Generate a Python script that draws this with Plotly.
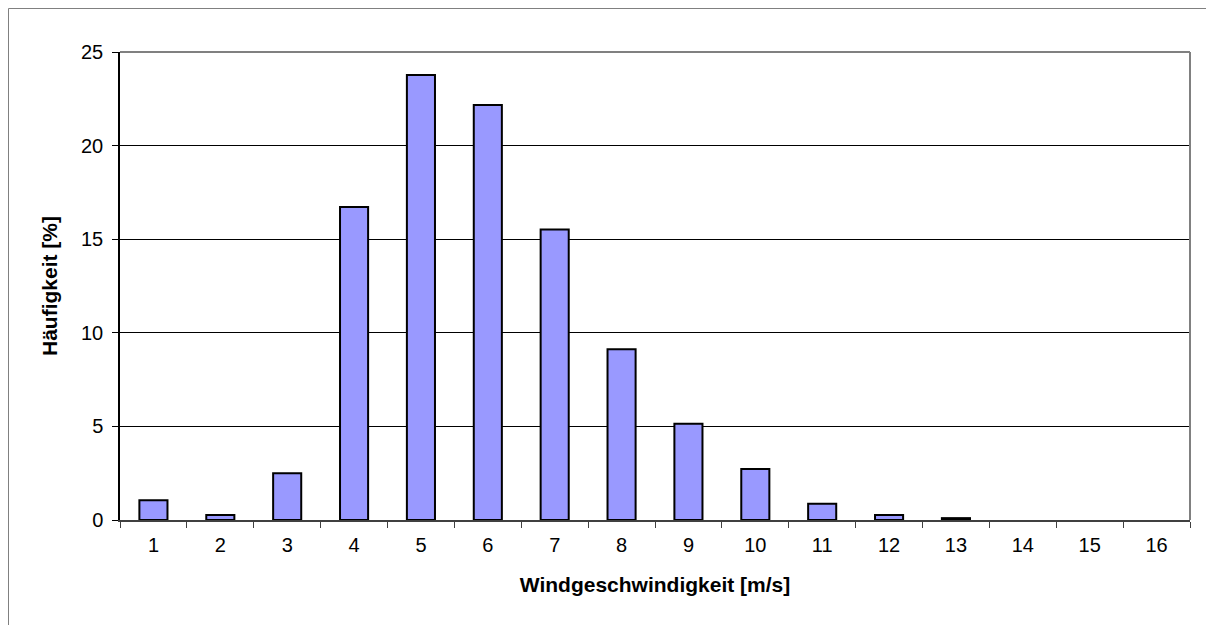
import plotly.graph_objects as go

categories = [str(i) for i in range(1, 17)]
frequency = [1.05, 0.27, 2.5, 16.72, 23.77, 22.17, 15.52, 9.12, 5.14, 2.72, 0.87, 0.27, 0.1, 0.0, 0.0, 0.0]
y_ticks = [0, 5, 10, 15, 20, 25]

# page body has an 8px default margin; compensate so the plot area lands where the reference has it
OFF = 8
W, H = 1214, 625
PL, PR, PT, PB = 120, 1190, 52, 520  # plot area in page pixels

fig = go.Figure()
fig.add_trace(go.Bar(
    x=categories, y=frequency,
    marker=dict(color="#9999FF",
                line=dict(color="black", width=[2 if v > 0 else 0 for v in frequency])),
    width=0.42,
))

pw = PR - PL
ph = PB - PT
font_family = "Liberation Sans, Arial, sans-serif"
fig.update_layout(
    width=W, height=H,
    margin=dict(l=PL - OFF, r=W + OFF - PR, t=PT - OFF, b=H + OFF - PB),
    paper_bgcolor="white", plot_bgcolor="white",
    showlegend=False,
    font=dict(family=font_family, size=20, color="black"),
    xaxis=dict(
        type="category", tickson="boundaries",
        ticks="outside", ticklen=6, tickcolor="#404040", tickwidth=1,
        showline=True, linecolor="#404040", linewidth=2,
        showgrid=False, range=[-0.5, 15.5],
        tickfont=dict(size=20), ticklabelstandoff=6,
        title=dict(text="<b>Windgeschwindigkeit [m/s]</b>", font=dict(size=21), standoff=22),
    ),
    yaxis=dict(
        range=[0, 25], tickvals=y_ticks,
        ticks="outside", ticklen=6, tickcolor="black", tickwidth=1,
        showline=True, linecolor="black", linewidth=1.5,
        showgrid=True, gridcolor="black", gridwidth=1,
        zeroline=False,
        tickfont=dict(size=20), ticklabelstandoff=5,
        title=dict(text="<b>Häufigkeit [%]</b>", font=dict(size=21), standoff=18),
    ),
    shapes=[
        dict(type="line", xref="paper", yref="paper", x0=0, x1=1, y0=1, y1=1,
             line=dict(color="#808080", width=2)),
        dict(type="line", xref="paper", yref="paper", x0=1, x1=1, y0=0, y1=1,
             line=dict(color="#808080", width=2)),
        dict(type="rect", xref="paper", yref="paper",
             x0=(OFF + 0.5 - PL) / pw, x1=(1213 - PL) / pw,
             y0=-0.4, y1=1 + (PT - OFF - 0.5) / ph,
             line=dict(color="#808080", width=1), layer="below"),
    ],
)

fig.write_html("out.html")
